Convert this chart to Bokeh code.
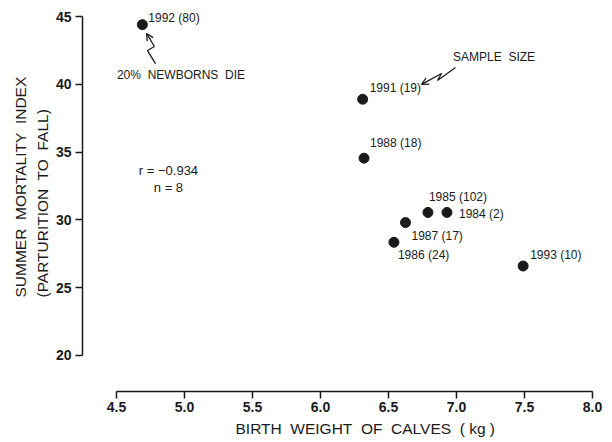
from bokeh.plotting import figure
from bokeh.models import (Label, LabelSet, ColumnDataSource, Arrow, OpenHead,
                          FixedTicker, Range1d, NumeralTickFormatter, Title)
from bokeh.core.properties import value
from bokeh.embed import file_html
from bokeh.resources import INLINE

# ---- data ----
years = ["1992", "1991", "1988", "1985", "1984", "1987", "1986", "1993"]
sample_sizes = [80, 19, 18, 102, 2, 17, 24, 10]
birth_weight = [4.69, 6.31, 6.32, 6.79, 6.93, 6.625, 6.54, 7.49]
mortality_index = [44.4, 38.9, 34.55, 30.55, 30.55, 29.8, 28.35, 26.6]
x_ticks = [4.5, 5.0, 5.5, 6.0, 6.5, 7.0, 7.5, 8.0]
y_ticks = [20, 25, 30, 35, 40, 45]

# label offsets (pixels) relative to each point
label_dx = [6, 7, 6, 1, 12, 6, 4, 7]
label_dy = [7, 11, 15, 15, -2, -13, -13, 11]

FONT = "Liberation Sans"
INK = "#1a1a1a"
SP = "\u00a0 "  # wide word gap that survives whitespace collapsing

p = figure(width=606, height=442,
           x_range=Range1d(4.25, 8.0), y_range=Range1d(17.345, 46.18),
           output_backend="svg", toolbar_location=None,
           min_border_left=82, min_border_right=14,
           min_border_top=0, min_border_bottom=51)
p.outline_line_color = None
p.xgrid.visible = False
p.ygrid.visible = False
p.background_fill_color = "white"
p.border_fill_color = "white"

# axes
for ax in (p.xaxis[0], p.yaxis[0]):
    ax.axis_line_color = INK
    ax.axis_line_width = 1.5
    ax.major_tick_line_color = INK
    ax.major_tick_line_width = 1.5
    ax.minor_tick_line_color = None
    ax.major_tick_in = 0
    ax.major_tick_out = 7
    ax.major_label_text_font = FONT
    ax.major_label_text_font_style = "bold"
    ax.major_label_text_font_size = "14px"
    ax.major_label_text_color = INK

p.xaxis[0].ticker = FixedTicker(ticks=x_ticks)
p.xaxis[0].formatter = NumeralTickFormatter(format="0.0")
p.xaxis[0].bounds = (x_ticks[0], x_ticks[-1])
p.xaxis[0].major_label_standoff = 3
p.yaxis[0].ticker = FixedTicker(ticks=y_ticks)
p.yaxis[0].bounds = (y_ticks[0], y_ticks[-1])
p.yaxis[0].major_label_standoff = 4

# axis titles
p.add_layout(Title(text=f"BIRTH{SP}WEIGHT{SP}OF{SP}CALVES{SP}( kg )", align="left", offset=153,
                   vertical_align="middle", standoff=9,
                   text_font=FONT, text_font_size="15.5px", text_font_style="normal",
                   text_color=INK), "below")
p.add_layout(Title(text=f"SUMMER{SP}MORTALITY{SP}INDEX\n(PARTURITION{SP}TO{SP}FALL)",
                   align="left", offset=94, vertical_align="bottom", standoff=4,
                   text_font=FONT, text_font_size="15.5px", text_font_style="normal",
                   text_line_height=1.25, text_color=INK), "left")

# points
src = ColumnDataSource(dict(
    x=birth_weight, y=mortality_index,
    label=[f"{y} ({n})" for y, n in zip(years, sample_sizes)],
    dx=label_dx, dy=label_dy))
p.scatter("x", "y", source=src, size=10, color=INK)
p.add_layout(LabelSet(x="x", y="y", text="label", source=src,
                      x_offset="dx", y_offset="dy",
                      text_font=value(FONT), text_font_size=value("12px"),
                      text_color=INK, text_align="left", text_baseline="middle"))

# annotations
def txt(x, y, s, size="12px"):
    p.add_layout(Label(x=x, y=y, text=s, text_font=FONT, text_font_size=size,
                       text_color=INK, text_align="center",
                       text_baseline="middle"))

txt(4.974, 40.65, f"20%{SP}NEWBORNS{SP}DIE")
txt(7.276, 41.98, f"SAMPLE{SP}SIZE")
txt(4.882, 33.64, "r = \u22120.934", size="13px")
txt(4.882, 32.39, "n = 8", size="13px")

# zig-zag arrows
z1x = [4.787, 4.728, 4.779, 4.721]
z1y = [41.53, 42.49, 42.79, 43.75]
z2x = [6.993, 6.860, 6.890, 6.743]
z2y = [41.24, 40.28, 40.80, 39.99]
for zx, zy in ((z1x, z1y), (z2x, z2y)):
    p.line(zx[:3], zy[:3], line_color=INK, line_width=1.3)
    p.add_layout(Arrow(end=OpenHead(size=7, line_color=INK, line_width=1.3),
                       x_start=zx[2], y_start=zy[2], x_end=zx[3], y_end=zy[3],
                       line_color=INK, line_width=1.3))

open("out.html", "w").write(file_html(p, INLINE))
